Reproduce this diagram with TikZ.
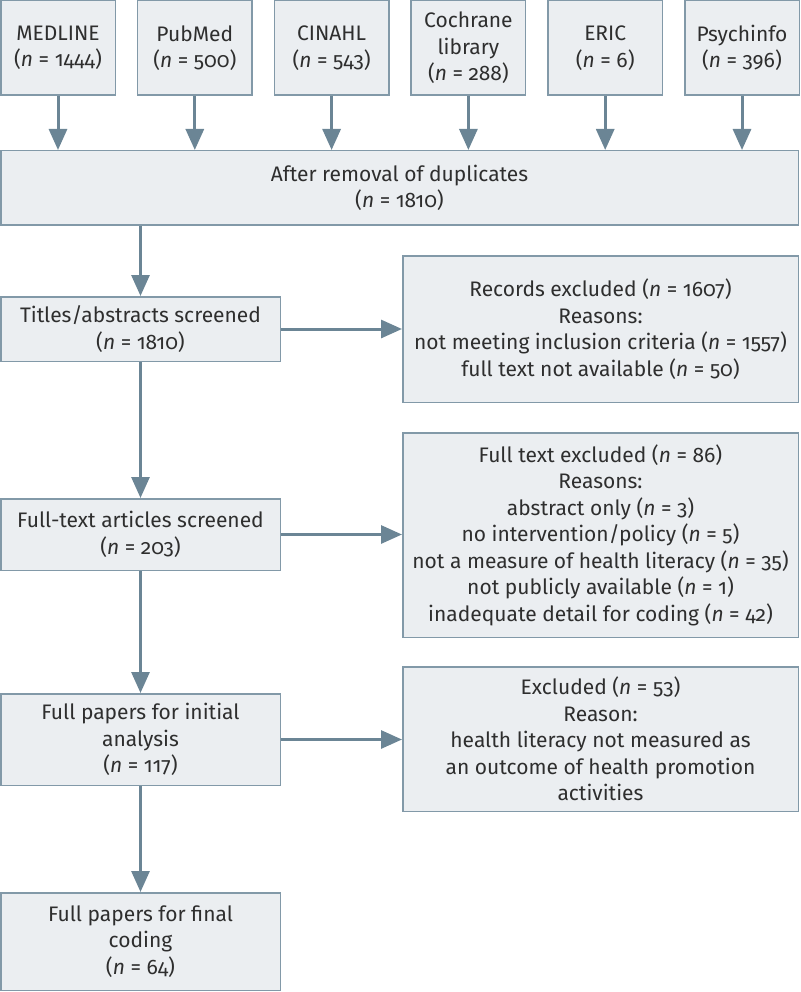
\documentclass[tikz,border=0pt]{standalone}
\usepackage{fontspec}
\setmainfont{Fira Sans}[Numbers=OldStyle]
\usetikzlibrary{arrows.meta}
\definecolor{boxfill}{HTML}{EBEEF1}
\definecolor{boxline}{HTML}{8299A8}
\definecolor{arrowc}{HTML}{6B8595}
\definecolor{txt}{HTML}{2E2E2E}
\tikzset{
  box/.style={draw=boxline, fill=boxfill, line width=1.5pt, inner sep=0pt, align=center,
    text=txt, font=\fontsize{21}{26.5}\selectfont},
  flow/.style={draw=arrowc, line width=3pt, -{Triangle[width=18pt,length=21pt]}}
}
\newcommand{\nn}{\textit{n}}
\begin{document}
\begin{tikzpicture}[x=1pt,y=-1pt]
\useasboundingbox (0,0) rectangle (800,992);
% top sources
\node[box, minimum width=114.5pt, minimum height=94.5pt] (s1) at (58,48) {MEDLINE\\(\nn\ = 1444)};
\node[box, minimum width=114.5pt, minimum height=94.5pt] (s2) at (194.8,48) {PubMed\\(\nn\ = 500)};
\node[box, minimum width=114.5pt, minimum height=94.5pt] (s3) at (331.6,48) {CINAHL\\(\nn\ = 543)};
\node[box, minimum width=114.5pt, minimum height=94.5pt] (s4) at (468.4,48) {Cochrane\\library\\(\nn\ = 288)};
\node[box, minimum width=114.5pt, minimum height=94.5pt] (s5) at (605.2,48) {ERIC\\(\nn\ = 6)};
\node[box, minimum width=114.5pt, minimum height=94.5pt] (s6) at (742,48) {Psychinfo\\(\nn\ = 396)};
% duplicates
\node[box, minimum width=797.5pt, minimum height=74.5pt] (dup) at (399.5,188) {After removal of duplicates\\(\nn\ = 1810)};
% left column
\node[box, minimum width=279.5pt, minimum height=64.5pt] (tit) at (140.5,329) {Titles/abstracts screened\\(\nn\ = 1810)};
\node[box, minimum width=279.5pt, minimum height=71.5pt] (ful) at (140.5,534.5) {Full-text articles screened\\(\nn\ = 203)};
\node[box, minimum width=279.5pt, minimum height=91.5pt] (ini) at (140.5,739.5) {Full papers for initial\\analysis\\(\nn\ = 117)};
\node[box, minimum width=279.5pt, minimum height=97.5pt] (fin) at (140.5,941.5) {Full papers for final\\coding\\(\nn\ = 64)};
% right column
\node[box, minimum width=395.5pt, minimum height=146.5pt] (rec) at (600.5,329) {Records excluded (\nn\ = 1607)\\Reasons:\\not meeting inclusion criteria (\nn\ = 1557)\\full text not available (\nn\ = 50)};
\node[box, minimum width=395.5pt, minimum height=204.5pt] (fte) at (600.5,535) {Full text excluded (\nn\ = 86)\\Reasons:\\abstract only (\nn\ = 3)\\no intervention/policy (\nn\ = 5)\\not a measure of health literacy (\nn\ = 35)\\not publicly available (\nn\ = 1)\\inadequate detail for coding (\nn\ = 42)};
\node[box, minimum width=395.5pt, minimum height=144.5pt] (exc) at (600.5,739) {Excluded (\nn\ = 53)\\Reason:\\health literacy not measured as\\an outcome of health promotion\\activities};
% arrows
\foreach \s in {s1,s2,s3,s4,s5,s6}{
  \draw[flow] (\s.south) -- (\s.south |- dup.north);
}
\draw[flow] (dup.south -| tit.north) -- (tit.north);
\draw[flow] (tit.south) -- (ful.north);
\draw[flow] (ful.south) -- (ini.north);
\draw[flow] (ini.south) -- (fin.north);
\draw[flow] (tit.east) -- (tit.east -| rec.west);
\draw[flow] (ful.east) -- (ful.east -| fte.west);
\draw[flow] (ini.east) -- (ini.east -| exc.west);
\end{tikzpicture}
\end{document}
